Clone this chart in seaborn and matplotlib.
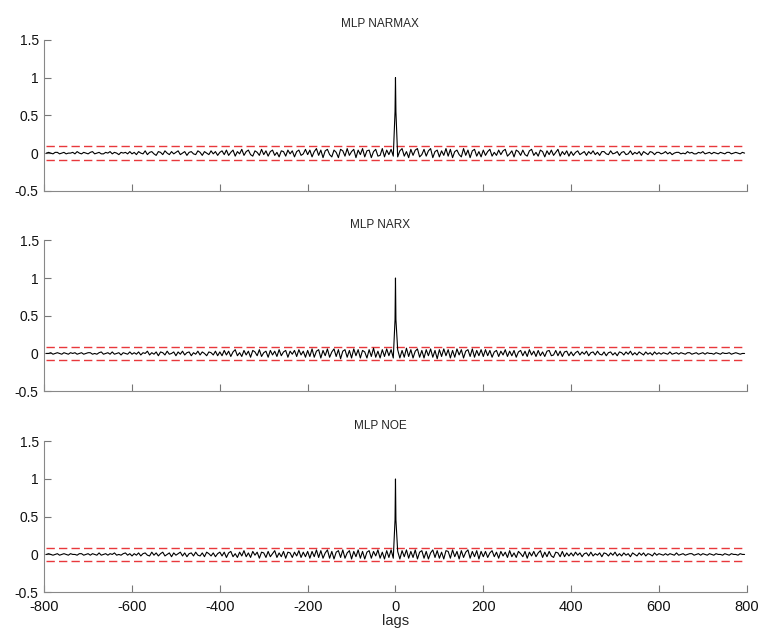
import numpy as np
import pandas as pd
import matplotlib
matplotlib.use('Agg')
import matplotlib.pyplot as plt
import seaborn as sns

# correlation values read off the picture, in hundredths, sampled every 5 lags
# left side runs -5*n .. -5, right side 5 .. 5*n; the peak sits at lags -1, 0, 1
narmax_left = [0,1,0,-1,1,1,-1,0,1,-1,0,0,1,-1,2,0,-1,1,0,-1,1,2,-1,0,1,-1,-1,1,0,2,-1,1,0,-2,1,0,1,-1,2,-1,
               1,-2,2,0,-1,3,-2,1,2,-1,-3,2,1,-2,3,0,-2,2,-1,1,3,-2,0,2,-3,1,2,-1,-2,3,1,-3,2,0,-2,3,-1,2,-3,1,
               3,-2,4,-3,1,4,-4,2,-1,5,-3,2,4,-2,-4,3,1,-3,5,-2,3,-4,2,4,-3,1,-5,3,2,-4,4,-1,3,-5,2,4,-3,-1,5,-2,
               4,-5,2,6,-3,4,-6,3,5,-2,-5,4,1,-6,5,3,-4,6,-3,2,5,-6,4,-2,6,-5,3,4,-6,2,5,-4,-3,6,-5,4,-2,5,-4]
narmax_right = [-5,3,6,-4,2,-6,5,-3,4,6,-5,-2,5,-4,3,6,-6,2,4,-5,3,-3,6,-4,5,-6,2,4,-2,-5,6,-3,4,-6,3,5,-4,2,-5,
                4,-3,2,5,-4,1,-3,4,-2,3,5,-4,-1,3,-5,4,2,-3,4,-2,-4,3,5,-3,1,-4,4,2,-5,3,-2,4,-3,1,5,-4,2,-2,3,-4,
                2,-3,1,3,-2,0,2,-3,2,-1,3,-2,1,-3,2,2,-1,-2,3,-1,0,2,-3,1,2,-2,-1,3,-2,1,-1,2,-3,2,0,-2,2,1,-2,1,
                1,-1,0,2,-1,1,-2,0,1,1,-1,0,-1,2,0,1,-1,-1,1,0,2,-1,0,1,-1,1,0,-1,1,0,-1,1,1,-1,0,1,0,-1,1,0]
narmax_peak = [0.55, 1.0, 0.55]

narx_left = [0,0,1,-1,0,1,0,-1,1,0,-1,1,0,1,-1,0,1,-1,0,1,1,-1,0,-1,1,2,-1,0,1,-1,2,-1,0,1,-2,1,0,-1,2,-1,
             1,-1,2,-2,1,0,3,-2,1,-1,2,-3,2,1,-2,3,-1,0,2,-3,2,-1,3,-2,1,2,-3,1,-1,3,-2,2,0,-3,2,1,-2,3,-3,2,
             -3,4,-2,3,-4,2,5,-3,1,-4,4,-2,3,-5,4,2,-3,5,-4,1,3,-5,4,-2,3,-4,5,-3,2,4,-5,3,-1,4,-4,5,-2,3,-5,4,
             -4,6,-5,3,5,-6,4,-3,6,-5,2,6,-4,5,-7,3,5,-5,4,-6,6,-3,5,-6,4,2,-6,5,-4,7,-5,3,-6,5,-4,6,-3,5,-6]
narx_right = [5,-6,4,-5,7,-4,5,-6,3,6,-5,4,-6,5,-3,6,-5,4,-7,5,-4,6,-3,5,-6,4,-5,6,-2,5,-6,3,5,-4,6,-5,4,-3,5,
              -4,5,-3,4,-5,2,4,-4,3,-2,5,-4,3,-3,4,-5,2,4,-3,3,-4,5,-2,3,-4,4,-3,2,-4,3,4,-3,-2,4,-3,3,-4,2,3,-3,
              2,-3,1,3,-2,2,-1,3,-3,1,2,-2,3,-1,-2,2,-3,1,2,-2,1,-3,2,1,-2,2,-1,3,-2,1,-2,2,0,-2,2,-1,1,-2,2,-1,
              1,-1,1,0,-1,2,-1,0,1,-1,1,0,-1,1,1,-1,0,1,-1,0,1,-1,1,0,0,-1,1,0,-1,1,0,0,1,-1,0,1,0,-1,0,0]
narx_peak = [0.45, 1.0, 0.45]

noe_left = [0,1,0,-1,0,1,-1,0,1,0,-1,1,0,0,-1,1,1,-1,0,1,-1,1,0,-1,2,-1,0,1,-1,1,0,2,-1,0,-1,1,2,-1,1,-2,
            1,-1,2,-2,1,2,-1,-2,3,-1,2,-2,1,3,-2,0,2,-3,2,-1,1,3,-2,2,-3,1,2,-2,3,-1,-2,2,-3,3,1,-2,2,-3,1,3,
            -2,3,-4,2,4,-3,1,-4,3,-2,5,-3,2,-4,4,-1,3,-5,3,2,-4,4,-3,1,5,-4,2,-3,4,-5,3,2,-4,3,-2,5,-4,3,-3,4,
            -5,4,-3,6,-4,5,-5,2,6,-5,4,-6,3,5,-4,6,-5,2,5,-6,4,-3,6,-5,4,-6,3,5,-5,4,-2,6,-5,3,-6,5,-4,6,-5]
noe_right = [4,-6,5,-3,6,-5,4,-4,6,-6,3,5,-5,4,-6,2,6,-4,5,-5,3,-6,5,4,-5,6,-3,4,-6,5,-4,3,6,-5,4,-3,5,-6,4,
             -3,4,-4,2,5,-3,3,-5,4,-2,3,-4,5,-3,2,-4,4,1,-3,4,-5,3,-2,4,-3,2,5,-4,3,-3,4,-2,-4,3,2,-3,4,-3,2,-2,
             2,-2,3,-1,2,-3,1,2,-2,3,-2,1,-1,2,-3,2,1,-2,2,-1,3,-2,1,-2,2,-1,1,-3,2,0,-2,2,-1,2,-2,1,0,-2,2,-1,
             1,0,-1,1,-1,1,0,-1,2,-1,0,1,-1,0,1,1,-1,0,1,-1,1,0,-1,1,0,-1,1,0,0,-1,1,0,-1,1,0,0,-1,1,0,0]
noe_peak = [0.46, 1.0, 0.46]

titles = ['MLP NARMAX', 'MLP NARX', 'MLP NOE']
conf = 0.09
yticks = [-0.5, 0, 0.5, 1, 1.5]
ytick_labels = ['-0.5', '0', '0.5', '1', '1.5']
xticks = [-800, -600, -400, -200, 0, 200, 400, 600, 800]


def build(name, left, peak, right):
    lags = np.concatenate([np.arange(-5 * len(left), 0, 5), [-1, 0, 1],
                           np.arange(5, 5 * len(right) + 1, 5)])
    vals = np.concatenate([np.array(left) / 100, peak, np.array(right) / 100])
    return pd.DataFrame({'model': name, 'lag': lags, 'corr': vals})


df = pd.concat([build(titles[0], narmax_left, narmax_peak, narmax_right),
                build(titles[1], narx_left, narx_peak, narx_right),
                build(titles[2], noe_left, noe_peak, noe_right)])

sns.set_style('white')
plt.rcParams['font.family'] = ['Liberation Sans', 'DejaVu Sans']
plt.rcParams['axes.unicode_minus'] = False

fig = plt.figure(figsize=(7.62, 6.34), dpi=100)
left, width, height = 0.058, 0.922, 0.238
bottoms = [0.699, 0.383, 0.066]

for name, b in zip(titles, bottoms):
    ax = fig.add_axes([left, b, width, height])
    sub = df[df.model == name]
    ax.hlines([conf, -conf], sub.lag.min(), sub.lag.max(), colors='#e8383c',
              linestyles=(0, (6, 3)), lw=1.0)
    sns.lineplot(data=sub, x='lag', y='corr', ax=ax, color='black', lw=0.8)
    ax.set_xlim(-800, 800)
    ax.set_ylim(-0.5, 1.5)
    ax.set_yticks(yticks)
    ax.set_yticklabels(ytick_labels, fontsize=10)
    ax.set_xticks(xticks)
    if name == titles[-1]:
        ax.set_xticklabels([str(t) for t in xticks], fontsize=10.5)
        ax.set_xlabel('lags', fontsize=10.5, labelpad=0)
    else:
        ax.set_xticklabels([])
        ax.set_xlabel('')
    ax.set_ylabel('')
    ax.set_title(name, fontsize=8.5, pad=9, x=0.478)
    for s in ['top', 'right']:
        ax.spines[s].set_visible(False)
    for s in ['left', 'bottom']:
        ax.spines[s].set_color('#888888')
        ax.spines[s].set_linewidth(0.8)
    ax.tick_params(axis='x', direction='in', length=5, width=0.8, color='#777777',
                   pad=6, labelcolor='#111111', bottom=True)
    ax.tick_params(axis='y', direction='in', length=5, width=0.8, color='#777777',
                   pad=4, labelcolor='#111111', left=True)

fig.savefig('out.png', dpi=100)
